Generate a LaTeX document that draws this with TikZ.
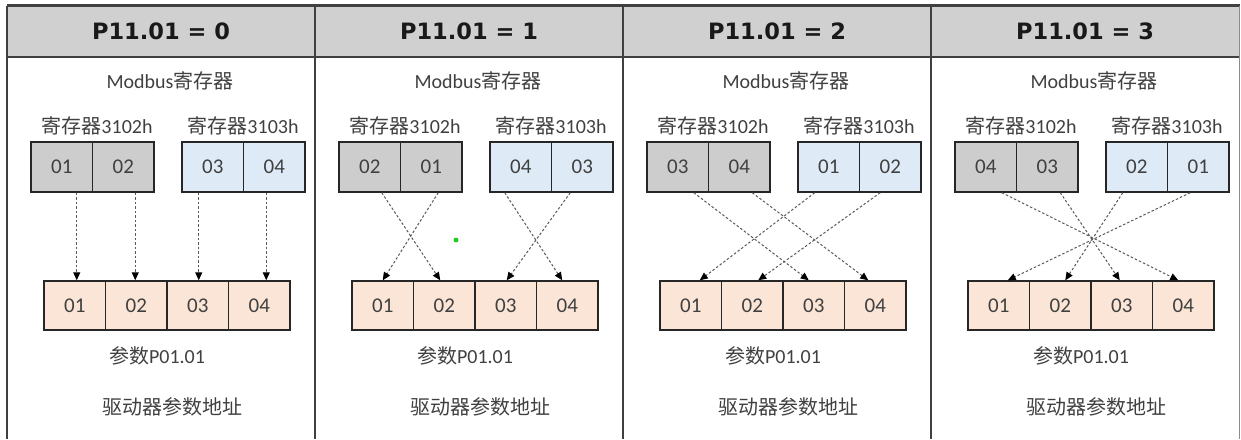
\documentclass[tikz,border=0pt]{standalone}
\usepackage{fontspec}
\setmainfont{Carlito}
\newfontfamily\cjk{Noto Sans CJK SC}
\newfontfamily\headfont{DejaVu Sans}
\usetikzlibrary{arrows.meta}

\definecolor{frame}{HTML}{404040}
\definecolor{hdrgrey}{HTML}{D0D0D0}
\definecolor{regA}{HTML}{CDCDCD}
\definecolor{regB}{HTML}{DEEBF7}
\definecolor{param}{HTML}{FBE5D6}
\definecolor{txt}{HTML}{404040}
\definecolor{marker}{HTML}{22CC22}

\tikzset{
  title/.style={font=\headfont\bfseries\fontsize{22.5}{22.5}\selectfont, text=black!90, inner sep=0pt},
  lbl/.style={font=\fontsize{20}{20}\selectfont, text=txt, inner sep=0pt},
  cell/.style={draw=black!85, line width=1.4pt, minimum width=61.5pt, minimum height=50pt,
    inner sep=0pt, font=\fontsize{21}{21}\selectfont, text=txt},
  link/.style={draw=black!65, line width=1pt, dash pattern=on 2.5pt off 2pt,
    -{Triangle[length=8pt,width=7pt,color=black]}},
  rule/.style={draw=frame, line width=2.2pt},
}

% one column of the table: index, x offset, mode, register bytes
\newcommand\panel[7]{%
  \node[title] (h#1) at ({#2+154},31) {P11.01 = #3};
  \node[lbl] (m#1) at ({#2+163},81) {Modbus{\cjk 寄存器}};
  \node[lbl] (ra#1) at ({#2+90},126) {{\cjk 寄存器}3102h};
  \node[lbl] (rb#1) at ({#2+236},126) {{\cjk 寄存器}3103h};
  \node[cell,fill=regA] (g#1a) at ({#2+54.75},167) {#4};
  \node[cell,fill=regA] (g#1b) at ({#2+116.25},167) {#5};
  \node[cell,fill=regB] (b#1a) at ({#2+205.75},167) {#6};
  \node[cell,fill=regB] (b#1b) at ({#2+267.25},167) {#7};
  \node[cell,fill=param,minimum height=49pt] (p#1a) at ({#2+67.75},305.5) {01};
  \node[cell,fill=param,minimum height=49pt] (p#1b) at ({#2+129.25},305.5) {02};
  \node[cell,fill=param,minimum height=49pt] (p#1c) at ({#2+190.75},305.5) {03};
  \node[cell,fill=param,minimum height=49pt] (p#1d) at ({#2+252.25},305.5) {04};
  \node[lbl] (q#1) at ({#2+150},356) {{\cjk 参数}P01.01};
  \node[lbl] (d#1) at ({#2+165},407) {\cjk 驱动器参数地址};
}

\begin{document}
\begin{tikzpicture}[x=1pt,y=-1pt]
\useasboundingbox (0,0) rectangle (1241,439);

% header band and table rules
\fill[hdrgrey] (7,5.5) rectangle (1239.5,57);
\draw[rule] (7,5.5) -- (1239.5,5.5);
\draw[rule] (7,57) -- (1239.5,57);
\draw[rule] (7,5.5) -- (7,439);
\draw[rule] (315,5.5) -- (315,439);
\draw[rule] (623,5.5) -- (623,439);
\draw[rule] (931,5.5) -- (931,439);
\draw[draw=black!45, line width=1.5pt] (1239.5,5.5) -- (1239.5,439);

\panel{0}{7}{0}{01}{02}{03}{04}
\panel{1}{315}{1}{02}{01}{04}{03}
\panel{2}{623}{2}{03}{04}{01}{02}
\panel{3}{931}{3}{04}{03}{02}{01}

% byte order 0: straight through
\draw[link] ([xshift=15pt]g0a.south) -- ([xshift=2pt]p0a.north);
\draw[link] ([xshift=12pt]g0b.south) -- ([xshift=-1pt]p0b.north);
\draw[link] ([xshift=-14pt]b0a.south) -- ([xshift=1pt]p0c.north);
\draw[link] ([xshift=-8pt]b0b.south) -- ([xshift=7pt]p0d.north);

% byte order 1: bytes swapped in each register
\draw[link] ([xshift=12pt]g1a.south) -- ([xshift=-4pt]p1b.north);
\draw[link] ([xshift=7pt]g1b.south) -- ([xshift=0pt]p1a.north);
\draw[link] ([xshift=-16pt]b1a.south) -- ([xshift=-5pt]p1d.north);
\draw[link] ([xshift=-12pt]b1b.south) -- ([xshift=1pt]p1c.north);

% byte order 2: registers swapped
\draw[link] ([xshift=16pt]g2a.south) -- ([xshift=-5pt]p2c.north);
\draw[link] ([xshift=13pt]g2b.south) -- ([xshift=-7pt]p2d.north);
\draw[link] ([xshift=-14pt]b2a.south) -- ([xshift=9pt]p2a.north);
\draw[link] ([xshift=-10pt]b2b.south) -- ([xshift=6pt]p2b.north);

% byte order 3: fully reversed
\draw[link] ([xshift=16pt]g3a.south) -- ([xshift=-5pt]p3d.north);
\draw[link] ([xshift=13pt]g3b.south) -- ([xshift=-2pt]p3c.north);
\draw[link] ([xshift=-14pt]b3a.south) -- ([xshift=5pt]p3b.north);
\draw[link] ([xshift=-8pt]b3b.south) -- ([xshift=9pt]p3a.north);

\node[circle, fill=marker, inner sep=0pt, minimum size=5pt] (dot) at (456,240) {};
\end{tikzpicture}
\end{document}
